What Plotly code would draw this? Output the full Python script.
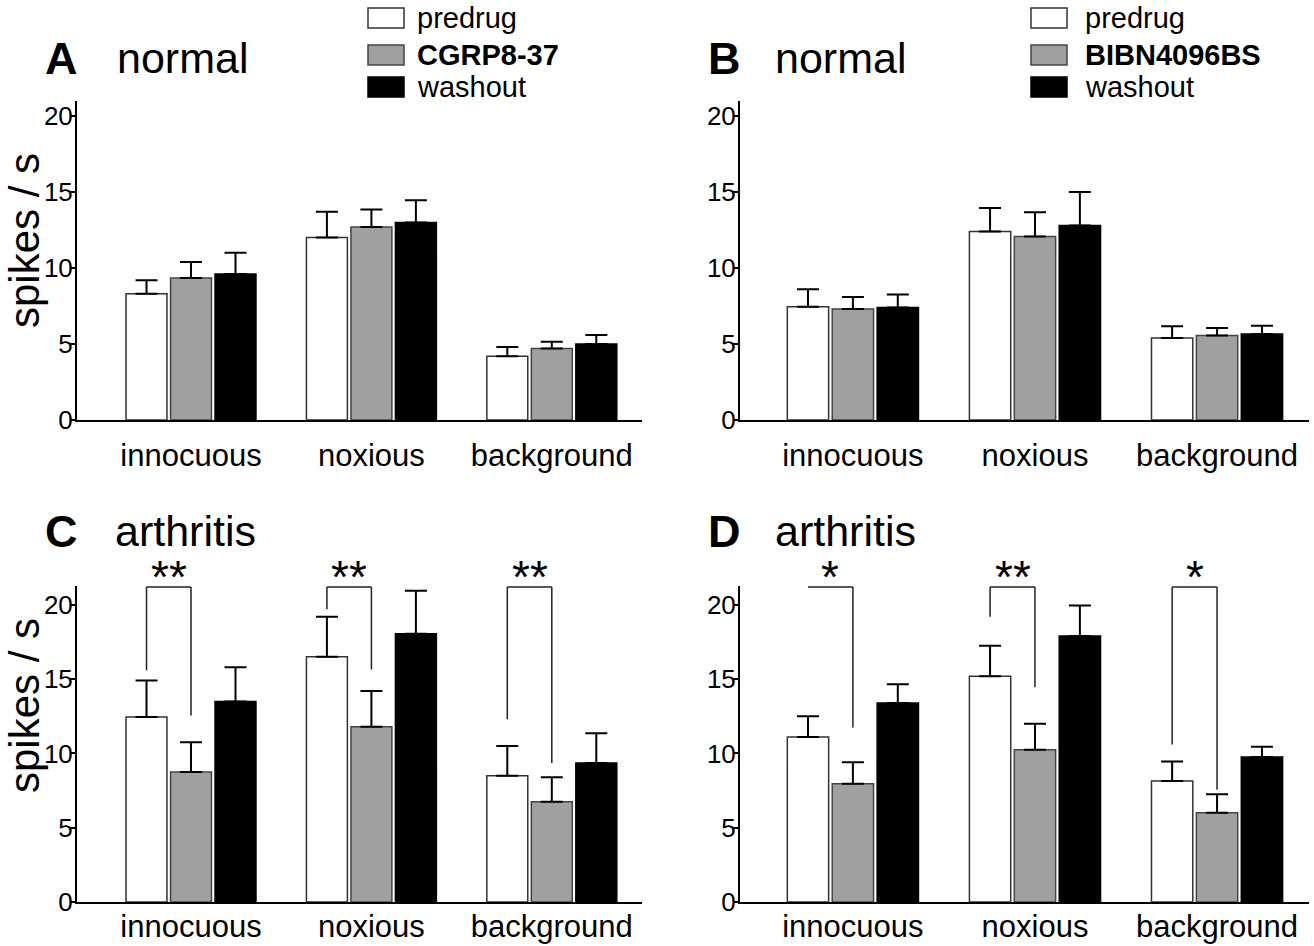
import plotly.graph_objects as go

W, H = 1314, 946

categories = ["innocuous", "noxious", "background"]
names_AC = ["predrug", "CGRP8-37", "washout"]
names_BD = ["predrug", "BIBN4096BS", "washout"]
y_ticks = [0, 5, 10, 15, 20]

# Panel A: normal, CGRP8-37
A_predrug = [8.3, 12.0, 4.2]
A_predrug_err = [0.9, 1.7, 0.6]
A_drug = [9.35, 12.7, 4.7]
A_drug_err = [1.05, 1.15, 0.45]
A_washout = [9.6, 13.0, 5.0]
A_washout_err = [1.4, 1.45, 0.6]

# Panel B: normal, BIBN4096BS
B_predrug = [7.45, 12.4, 5.4]
B_predrug_err = [1.15, 1.55, 0.77]
B_drug = [7.3, 12.07, 5.56]
B_drug_err = [0.8, 1.6, 0.5]
B_washout = [7.4, 12.8, 5.65]
B_washout_err = [0.85, 2.2, 0.55]

# Panel C: arthritis, CGRP8-37
C_predrug = [12.45, 16.5, 8.5]
C_predrug_err = [2.45, 2.7, 2.0]
C_drug = [8.75, 11.8, 6.75]
C_drug_err = [2.0, 2.4, 1.65]
C_washout = [13.5, 18.05, 9.35]
C_washout_err = [2.3, 2.9, 2.0]

# Panel D: arthritis, BIBN4096BS
D_predrug = [11.1, 15.2, 8.15]
D_predrug_err = [1.4, 2.05, 1.3]
D_drug = [7.95, 10.25, 6.0]
D_drug_err = [1.45, 1.75, 1.25]
D_washout = [13.4, 17.9, 9.75]
D_washout_err = [1.25, 2.05, 0.7]

# significance brackets (predrug vs drug)
C_sig = ["**", "**", "**"]
C_sig_left = [15.6, 19.7, 12.3]
C_sig_right = [12.55, 15.65, 9.35]
D_sig = ["*", "**", "*"]
D_sig_left = [21.2, 19.2, 10.6]
D_sig_right = [11.75, 14.45, 7.55]
SIG_TOP = 21.2

REG = "Liberation Sans, Arial, Helvetica, sans-serif"

BARGAP = 0.26
BARGROUPGAP = 0.08
SLOT = (1 - BARGAP) / 3

fills = ["white", "#a0a0a0", "black"]
lines = ["#333333", "#444444", "black"]

fig = go.Figure()

panels = [
    ("x", "y", [A_predrug, A_drug, A_washout], [A_predrug_err, A_drug_err, A_washout_err], names_AC),
    ("x2", "y2", [B_predrug, B_drug, B_washout], [B_predrug_err, B_drug_err, B_washout_err], names_BD),
    ("x3", "y3", [C_predrug, C_drug, C_washout], [C_predrug_err, C_drug_err, C_washout_err], names_AC),
    ("x4", "y4", [D_predrug, D_drug, D_washout], [D_predrug_err, D_drug_err, D_washout_err], names_BD),
]

xpos = list(range(len(categories)))
for xa, ya, vals, errs, nm in panels:
    for k in range(3):
        fig.add_trace(go.Bar(
            x=xpos, y=vals[k], name=nm[k], xaxis=xa, yaxis=ya,
            marker=dict(color=fills[k], line=dict(color=lines[k], width=1.5)),
            error_y=dict(type="data", array=errs[k], arrayminus=[0] * len(vals[k]),
                         symmetric=False, color="black", thickness=2, width=11),
            showlegend=False,
        ))

def px_x(v):
    return v / W

def px_y(v):
    return 1 - v / H

# axis geometry (pixels)
top_dom = [px_y(420), px_y(100.8)]
bot_dom = [px_y(902), px_y(585.5)]
left_dom = [px_x(77), px_x(642)]
right_dom = [px_x(740), px_x(1309)]

def xaxis(dom, rng, standoff):
    return dict(domain=dom, range=rng, tickvals=xpos, ticktext=categories,
                showline=True, linecolor="black", linewidth=2, ticks="",
                showgrid=False, zeroline=False, fixedrange=True,
                tickfont=dict(family=REG, size=31, color="black"),
                ticklabelstandoff=standoff)

def yaxis(dom, rng, anchor):
    return dict(domain=dom, range=rng, tickvals=y_ticks, anchor=anchor,
                showline=True, linecolor="black", linewidth=2, ticks="outside",
                ticklen=5, tickwidth=1.5, tickcolor="black",
                showgrid=False, zeroline=False, fixedrange=True,
                tickfont=dict(family=REG, size=26, color="black"),
                ticklabelstandoff=-8)

fig.update_layout(
    width=W, height=H, autosize=False,
    margin=dict(l=0, r=0, t=0, b=0, autoexpand=False),
    paper_bgcolor="white", plot_bgcolor="white",
    barmode="group", bargap=BARGAP, bargroupgap=BARGROUPGAP,
    xaxis=dict(xaxis(left_dom, [-0.632, 2.5], 7), anchor="y"),
    yaxis=yaxis(top_dom, [0, 21], "x"),
    xaxis2=dict(xaxis(right_dom, [-0.62, 2.505], 7), anchor="y2"),
    yaxis2=yaxis(top_dom, [0, 21], "x2"),
    xaxis3=dict(xaxis(left_dom, [-0.632, 2.5], -4), anchor="y3"),
    yaxis3=yaxis(bot_dom, [0, 21.3], "x3"),
    xaxis4=dict(xaxis(right_dom, [-0.62, 2.505], -4), anchor="y4"),
    yaxis4=yaxis(bot_dom, [0, 21.3], "x4"),
    showlegend=False,
)

shapes = []
annotations = []

# significance brackets
for xa, ya, labels, left, right in [("x3", "y3", C_sig, C_sig_left, C_sig_right),
                                    ("x4", "y4", D_sig, D_sig_left, D_sig_right)]:
    for i in range(len(categories)):
        xl = i - SLOT
        xr = i
        ln = dict(color="#222222", width=1.5)
        shapes.append(dict(type="line", xref=xa, yref=ya, x0=xl, x1=xl, y0=left[i], y1=SIG_TOP, line=ln))
        shapes.append(dict(type="line", xref=xa, yref=ya, x0=xl, x1=xr, y0=SIG_TOP, y1=SIG_TOP, line=ln))
        shapes.append(dict(type="line", xref=xa, yref=ya, x0=xr, x1=xr, y0=right[i], y1=SIG_TOP, line=ln))
        annotations.append(dict(xref=xa, yref=ya, x=(xl + xr) / 2, y=SIG_TOP, text=labels[i],
                                showarrow=False, yanchor="bottom", xanchor="center", yshift=-18,
                                font=dict(family=REG, size=46, color="black")))

# panel titles
for letter, word, lx, wx, cy in [("A", "normal", 43, 115, 58), ("B", "normal", 706, 773, 58),
                                 ("C", "arthritis", 43, 113, 531), ("D", "arthritis", 706, 773, 531)]:
    annotations.append(dict(xref="paper", yref="paper", x=px_x(lx), y=px_y(cy), text="<b>%s</b>" % letter,
                            showarrow=False, xanchor="left", yanchor="middle",
                            font=dict(family=REG, size=45, color="black")))
    annotations.append(dict(xref="paper", yref="paper", x=px_x(wx), y=px_y(cy), text=word,
                            showarrow=False, xanchor="left", yanchor="middle",
                            font=dict(family=REG, size=43, color="black")))

# y axis titles
for cy in [241, 706]:
    annotations.append(dict(xref="paper", yref="paper", x=px_x(24), y=px_y(cy), text="spikes / s",
                            textangle=-90, showarrow=False, xanchor="center", yanchor="middle",
                            font=dict(family=REG, size=42, color="black")))

# custom legends
for bx, tx, nm in [(368, 415, names_AC), (1031, 1083, names_BD)]:
    for k, cy in enumerate([18, 55, 87]):
        shapes.append(dict(type="rect", xref="paper", yref="paper",
                           x0=px_x(bx), x1=px_x(bx + 36), y0=px_y(cy - 10), y1=px_y(cy + 10),
                           fillcolor=fills[k], line=dict(color=lines[k], width=1.5)))
        txt = "<b>%s</b>" % nm[k] if k == 1 else nm[k]
        annotations.append(dict(xref="paper", yref="paper", x=px_x(tx), y=px_y(cy), text=txt,
                                showarrow=False, xanchor="left", yanchor="middle",
                                font=dict(family=REG, size=29, color="black")))

fig.update_layout(shapes=shapes, annotations=annotations)

fig.write_html("out.html", config={"displayModeBar": False},
               post_script="document.body.style.margin='0';")
